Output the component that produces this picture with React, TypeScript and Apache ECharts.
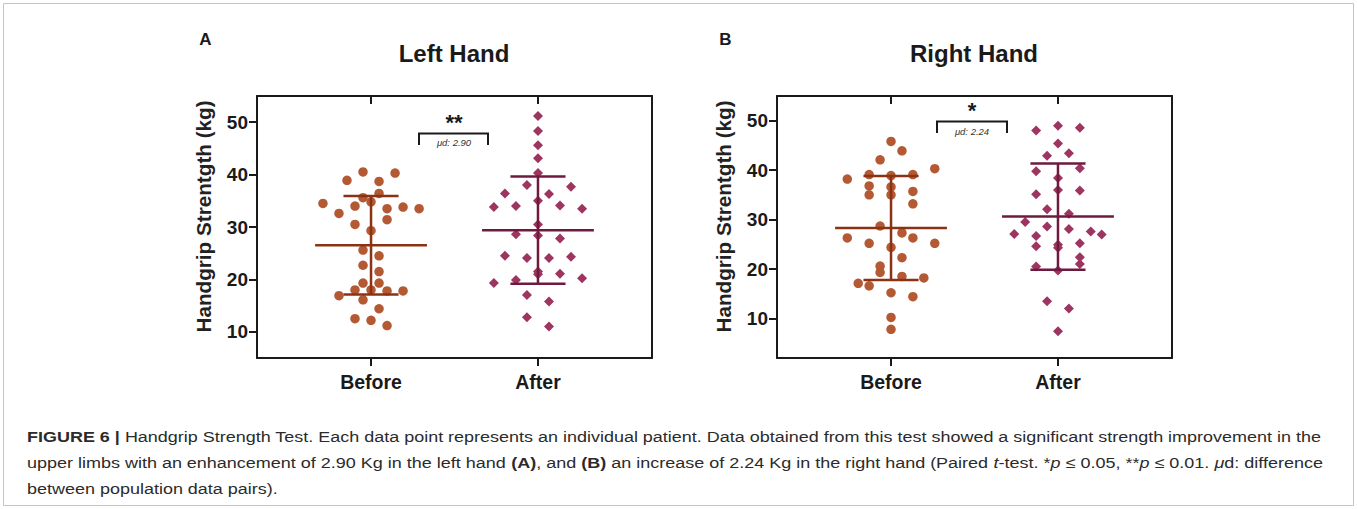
import React, { useEffect, useRef } from "react";
import * as echarts from "echarts";

const categories = ["Before", "After"];
const yTicks = [10, 20, 30, 40, 50];

// Left hand (A)
const leftBeforeValues = [40.5, 40.3, 38.9, 38.7, 36.4, 35.6, 34.5, 34.8, 34.0, 33.5, 33.8, 33.5, 32.6, 30.5, 31.4, 29.3, 25.6, 24.5, 22.7, 21.5, 19.3, 19.3, 18.0, 18.0, 17.8, 17.8, 16.9, 16.1, 14.4, 12.5, 12.2, 11.2];
const leftBeforeSlots = [-1, 3, -3, 1, 1, -1, -6, 0, -2, 2, 4, 6, -4, -2, 2, 0, -1, 1, -1, 1, -1, 1, -2, 0, 2, 4, -4, -1, 1, -2, 0, 2];
const leftAfterValues = [51.2, 48.3, 45.6, 43.1, 40.3, 38.0, 37.7, 36.4, 36.3, 35.0, 33.8, 34.0, 34.1, 33.5, 30.5, 28.6, 28.4, 27.8, 24.5, 24.1, 24.1, 24.3, 21.5, 21.0, 21.1, 20.2, 19.3, 19.9, 17.0, 15.8, 12.8, 11.0];
const leftAfterSlots = [0, 0, 0, 0, 0, -1, 3, -3, 1, 0, -4, -2, 2, 4, 0, -2, 0, 2, -3, -1, 1, 3, 0, 0, 2, 4, -4, -2, -1, 1, -1, 1];
const leftMeans = [26.5, 29.4];
const leftSDs = [9.4, 10.25];
const leftDiff = "2.90";
const leftStars = "**";

// Right hand (B)
const rightBeforeValues = [45.8, 43.9, 42.1, 40.3, 38.2, 39.1, 38.9, 39.1, 36.8, 36.6, 35.0, 35.0, 35.7, 33.2, 28.7, 26.3, 27.3, 26.3, 25.2, 25.2, 24.4, 22.3, 20.6, 19.3, 18.5, 18.2, 17.1, 16.6, 15.2, 14.4, 10.2, 7.8];
const rightBeforeSlots = [0, 1, -1, 4, -4, -2, 0, 2, -2, 0, -2, 0, 2, 2, -1, -4, 1, 2, -2, 4, 0, 1, -1, -1, 1, 3, -3, -2, 0, 2, 0, 0];
const rightAfterValues = [48.0, 49.0, 48.6, 45.4, 42.9, 43.4, 40.4, 39.8, 38.4, 36.0, 35.9, 35.1, 32.1, 31.2, 29.5, 28.6, 28.1, 27.6, 27.0, 27.1, 26.7, 24.6, 24.9, 25.2, 24.3, 22.4, 21.0, 20.5, 19.7, 13.5, 12.0, 7.4];
const rightAfterSlots = [-2, 0, 2, 0, -1, 1, 2, -2, 0, 0, 2, -2, -1, 1, -3, -1, 1, 3, 4, -4, -2, -2, 0, 2, 0, 2, 2, -2, 0, -1, 1, 0];
const rightMeans = [28.3, 30.6];
const rightSDs = [10.5, 10.75];
const rightDiff = "2.24";
const rightStars = "*";

const FONT = "'Liberation Sans', Arial, Helvetica, sans-serif";
const INK = "#1a1a1a";
const pointColors = ["#b35a34", "#9e3460"];
const lineColors = ["#8b3214", "#6e1a3f"];
const MEAN_HALF = 0.335;
const CAP_HALF = 0.165;

type Seg = [string, string];
const captionLines: Seg[][] = [
  [["b", "FIGURE 6 | "], ["n", "Handgrip Strength Test. Each data point represents an individual patient. Data obtained from this test showed a significant strength improvement in the"]],
  [["n", "upper limbs with an enhancement of 2.90 Kg in the left hand "], ["b", "(A)"], ["n", ", and "], ["b", "(B)"], ["n", " an increase of 2.24 Kg in the right hand (Paired "], ["i", "t"], ["n", "-test. *"], ["i", "p"], ["n", " ≤ 0.05, **"], ["i", "p"], ["n", " ≤ 0.01. "], ["i", "μ"], ["n", "d: difference"]],
  [["n", "between population data pairs)."]],
];

const panels = [
  { title: "Left Hand", letter: "A", left: 257, yMin: 5, before: [leftBeforeValues, leftBeforeSlots], after: [leftAfterValues, leftAfterSlots], means: leftMeans, sds: leftSDs, diff: leftDiff, stars: leftStars, steps: [0.048, 0.066] },
  { title: "Right Hand", letter: "B", left: 777, yMin: 2, before: [rightBeforeValues, rightBeforeSlots], after: [rightAfterValues, rightAfterSlots], means: rightMeans, sds: rightSDs, diff: rightDiff, stars: rightStars, steps: [0.0655, 0.0655] },
];

export default function App() {
  const ref = useRef<HTMLDivElement>(null);
  useEffect(() => {
    document.body.style.margin = "0";
    const chart = echarts.init(ref.current!, null, { renderer: "svg" });

    const grids: any[] = [];
    const xAxes: any[] = [];
    const yAxes: any[] = [];
    const series: any[] = [];
    const graphics: any[] = [];

    const xMin = 0.317, xMax = 2.683;
    panels.forEach((p, i) => {
      grids.push({ left: p.left, top: 96, width: 395, height: 262 });
      const axLine = { lineStyle: { color: INK, width: 2 } };
      xAxes.push({
        type: "value", gridIndex: i, min: xMin, max: xMax, position: "bottom",
        splitLine: { show: false }, axisLine: axLine,
        axisTick: { customValues: [1, 2], length: 8, lineStyle: { color: INK, width: 2 } },
        axisLabel: { customValues: [1, 2], formatter: (v: number) => categories[Math.round(v) - 1], fontSize: 19.5, fontWeight: "bold", color: INK, fontFamily: FONT, margin: 14 },
      });
      xAxes.push({
        type: "value", gridIndex: i, min: xMin, max: xMax, position: "top",
        splitLine: { show: false }, axisLine: axLine,
        axisTick: { customValues: [1, 2], inside: true, length: 8, lineStyle: { color: INK, width: 2 } },
        axisLabel: { show: false },
      });
      yAxes.push({
        type: "value", gridIndex: i, min: p.yMin, max: 55, position: "left",
        splitLine: { show: false }, axisLine: { show: true, ...axLine },
        axisTick: { show: true, customValues: yTicks, length: 8, lineStyle: { color: INK, width: 2 } },
        axisLabel: { customValues: yTicks, fontSize: 19, fontWeight: "bold", color: INK, fontFamily: FONT, margin: 9 },
      });
      yAxes.push({
        type: "value", gridIndex: i, min: p.yMin, max: 55, position: "right",
        splitLine: { show: false }, axisLine: { show: true, ...axLine },
        axisTick: { show: false }, axisLabel: { show: false },
      });

      [p.before, p.after].forEach((grp, c) => {
        const [vals, slots] = grp as number[][];
        series.push({
          type: "scatter", xAxisIndex: 2 * i, yAxisIndex: 2 * i,
          symbol: c === 0 ? "circle" : "diamond",
          symbolSize: c === 0 ? 9.5 : 10,
          itemStyle: { color: pointColors[c], opacity: 1 },
          data: vals.map((v, k) => [c + 1 + slots[k] * p.steps[c], v]),
          z: 2,
        });
      });

      series.push({
        type: "custom", xAxisIndex: 2 * i, yAxisIndex: 2 * i, z: 5,
        data: p.means.map((m, c) => [c + 1, m, p.sds[c]]),
        renderItem: (params: any, api: any) => {
          const x = api.value(0), m = api.value(1), s = api.value(2);
          const col = lineColors[params.dataIndex];
          const style = { stroke: col, lineWidth: 2.5 };
          const seg = (a: number[], b: number[]) => ({ type: "line", shape: { x1: a[0], y1: a[1], x2: b[0], y2: b[1] }, style });
          return {
            type: "group",
            children: [
              seg(api.coord([x - MEAN_HALF, m]), api.coord([x + MEAN_HALF, m])),
              seg(api.coord([x, m + s]), api.coord([x, m - s])),
              seg(api.coord([x - CAP_HALF, m + s]), api.coord([x + CAP_HALF, m + s])),
              seg(api.coord([x - CAP_HALF, m - s]), api.coord([x + CAP_HALF, m - s])),
            ],
          };
        },
      });

      const cx = p.left + 197;
      graphics.push({ type: "text", x: cx, y: 53.5, style: { text: p.title, fontSize: 24, fontWeight: "bold", fontFamily: FONT, fill: INK, align: "center", verticalAlign: "middle" } });
      graphics.push({ type: "text", x: p.left - 51.5, y: 39, style: { text: p.letter, fontSize: 17, fontWeight: "bold", fontFamily: FONT, fill: INK, align: "center", verticalAlign: "middle" } });
      graphics.push({ type: "text", x: p.left - 54, y: 216.5, rotation: Math.PI / 2, style: { text: "Handgrip Strentgth (kg)", fontSize: 20.7, fontWeight: "bold", fontFamily: FONT, fill: "#222", align: "center", verticalAlign: "middle" } });
    });

    // significance annotations
    graphics.push({ type: "text", x: 454, y: 122, style: { text: leftStars, fontSize: 22, fontWeight: "bold", fontFamily: FONT, fill: INK, align: "center", verticalAlign: "middle" } });
    graphics.push({ type: "polyline", shape: { points: [[419, 145], [419, 133.5], [488, 133.5], [488, 145]] }, style: { stroke: INK, lineWidth: 2, fill: "none" } });
    graphics.push({ type: "text", x: 454, y: 142, style: { text: "μd: " + leftDiff, fontSize: 9.5, fontStyle: "italic", fontFamily: FONT, fill: "#333", align: "center", verticalAlign: "middle" } });
    graphics.push({ type: "text", x: 972, y: 110, style: { text: rightStars, fontSize: 22, fontWeight: "bold", fontFamily: FONT, fill: INK, align: "center", verticalAlign: "middle" } });
    graphics.push({ type: "polyline", shape: { points: [[937, 133], [937, 121.5], [1007, 121.5], [1007, 133]] }, style: { stroke: INK, lineWidth: 2, fill: "none" } });
    graphics.push({ type: "text", x: 972, y: 131, style: { text: "μd: " + rightDiff, fontSize: 9.5, fontStyle: "italic", fontFamily: FONT, fill: "#333", align: "center", verticalAlign: "middle" } });

    // caption
    const CAP_SIZE = 15;
    const canvas = document.createElement("canvas");
    const ctx = canvas.getContext("2d")!;
    const fontFor = (k: string) => `${k === "i" ? "italic " : ""}${k === "b" ? "bold " : ""}${CAP_SIZE}px ${FONT}`;
    const widthOf = (line: Seg[]) => line.reduce((acc, [k, t]) => { ctx.font = fontFor(k); return acc + ctx.measureText(t).width; }, 0);
    const targets = [1295, 1296];
    const scales = targets.map((t, i) => t / widthOf(captionLines[i]));
    const rich: any = {
      n: { fontSize: CAP_SIZE, fontFamily: FONT, fill: "#2b2b2b" },
      b: { fontSize: CAP_SIZE, fontFamily: FONT, fontWeight: "bold", fill: "#2b2b2b" },
      i: { fontSize: CAP_SIZE, fontFamily: FONT, fontStyle: "italic", fill: "#2b2b2b" },
    };
    captionLines.forEach((line, i) => {
      const s = i < 2 ? scales[i] : (scales[0] + scales[1]) / 2;
      graphics.push({
        type: "text", x: 27, y: 437 + 26 * i, scaleX: s,
        style: { text: line.map(([k, t]) => `{${k}|${t}}`).join(""), rich, fontSize: CAP_SIZE, fontFamily: FONT, fill: "#2b2b2b", align: "left", verticalAlign: "middle" },
      });
    });
    graphics.push({ type: "rect", shape: { x: 3.5, y: 3.5, width: 1350, height: 502 }, style: { fill: "none", stroke: "#c4c4c4", lineWidth: 1 }, z: -1 });

    chart.setOption({
      animation: false,
      backgroundColor: "#fff",
      grid: grids,
      xAxis: xAxes,
      yAxis: yAxes,
      series,
      graphic: graphics,
    });
    return () => chart.dispose();
  }, []);
  return <div ref={ref} style={{ width: 1357, height: 509 }} />;
}
